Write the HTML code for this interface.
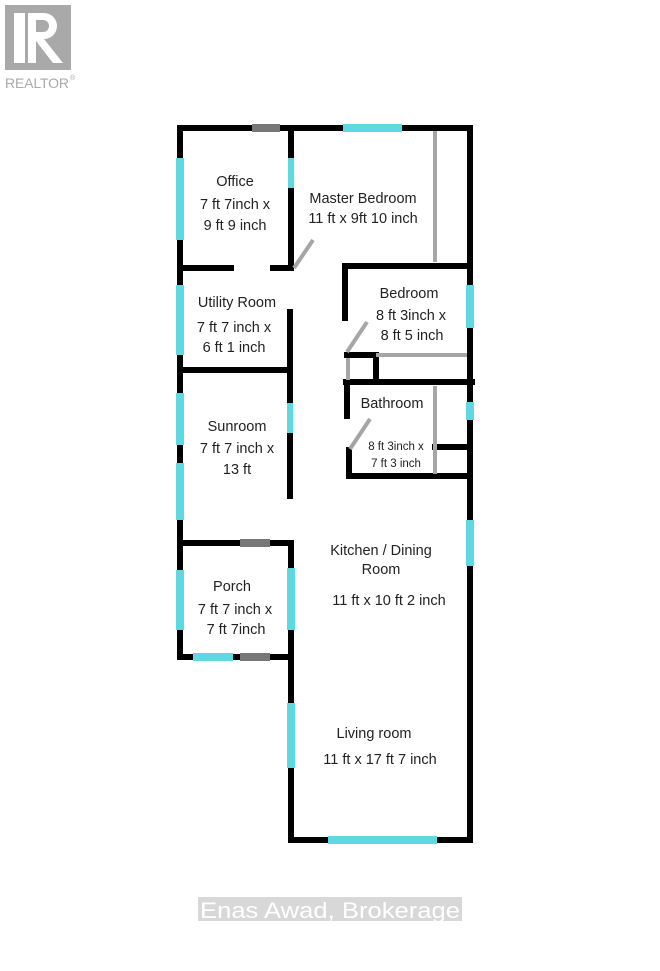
<!DOCTYPE html>
<html><head><meta charset="utf-8"><style>
html,body{margin:0;padding:0;background:#fff;}
svg{display:block;}
text{font-family:"Liberation Sans",sans-serif;fill:#222;}
</style></head><body>
<svg width="660" height="971" viewBox="0 0 660 971" xmlns="http://www.w3.org/2000/svg">
<!-- realtor logo -->
<rect x="5" y="5" width="66" height="65" fill="#a9a9a9"/>
<rect x="14" y="13" width="11" height="50" fill="#fff"/>
<path d="M28 13 H44 A13 13 0 0 1 44 39 L63 63 H53 L36 41 V63 H28 Z" fill="#fff"/>
<path d="M36 20 H43 A6 6 0 0 1 43 32 H36 Z" fill="#a9a9a9"/>
<text x="5" y="88" font-size="14" textLength="64" style="fill:#a9a9a9">REALTOR</text>
<text x="70" y="80" font-size="7" style="fill:#a9a9a9">®</text>

<g stroke="#000" stroke-width="6" fill="none" stroke-linecap="square">
<line x1="180" y1="128" x2="470" y2="128"/>
<line x1="470" y1="128" x2="470" y2="840"/>
<line x1="291" y1="840" x2="470" y2="840"/>
<line x1="291" y1="543" x2="291" y2="840"/>
<line x1="180" y1="128" x2="180" y2="657"/>
<line x1="180" y1="657" x2="291" y2="657"/>
<line x1="180" y1="543" x2="291" y2="543"/>
<line x1="291" y1="128" x2="291" y2="268"/>
<line x1="180" y1="268" x2="231" y2="268"/>
<line x1="273" y1="268" x2="291" y2="268"/>
<line x1="180" y1="370" x2="288" y2="370"/>
<line x1="290" y1="312" x2="290" y2="496"/>
<line x1="345" y1="266" x2="470" y2="266"/>
<line x1="345" y1="266" x2="345" y2="318"/>
<line x1="347" y1="355" x2="376" y2="355"/>
<line x1="376" y1="355" x2="376" y2="378"/>
<line x1="346" y1="382" x2="472" y2="382"/>
<line x1="347" y1="382" x2="347" y2="416"/>
<line x1="349" y1="450" x2="349" y2="476"/>
<line x1="349" y1="476" x2="470" y2="476"/>
<line x1="435" y1="447" x2="470" y2="447"/>
</g>
<g stroke="#a6a6a6" stroke-width="4" fill="none">
<line x1="435" y1="131" x2="435" y2="262"/>
<line x1="376" y1="355" x2="467" y2="355"/>
<line x1="348" y1="358" x2="348" y2="380"/>
<line x1="435" y1="386" x2="435" y2="474"/>
<line x1="294" y1="268" x2="313" y2="240"/>
<line x1="347" y1="352" x2="367" y2="322"/>
<line x1="350" y1="449" x2="370" y2="419"/>
</g>
<g fill="#5ed9e2">
<rect x="343" y="124" width="59" height="8"/>
<rect x="176" y="158" width="8" height="82"/>
<rect x="176" y="285" width="8" height="70"/>
<rect x="176" y="393" width="8" height="52"/>
<rect x="176" y="463" width="8" height="57"/>
<rect x="288" y="158" width="6" height="30"/>
<rect x="287" y="403" width="6" height="30"/>
<rect x="466" y="285" width="8" height="43"/>
<rect x="466" y="402" width="8" height="18"/>
<rect x="466" y="520" width="8" height="46"/>
<rect x="176" y="570" width="8" height="60"/>
<rect x="287" y="568" width="8" height="62"/>
<rect x="193" y="653" width="40" height="8"/>
<rect x="287" y="703" width="8" height="65"/>
<rect x="328" y="836" width="109" height="8"/>
</g>
<g fill="#777">
<rect x="252" y="124" width="28" height="8"/>
<rect x="240" y="539" width="30" height="8"/>
<rect x="240" y="653" width="30" height="8"/>
</g>
<g font-size="14.5" text-anchor="middle">
<text x="235" y="186">Office</text>
<text x="235" y="209">7 ft 7inch x</text>
<text x="235" y="230">9 ft 9 inch</text>
<text x="363" y="203">Master Bedroom</text>
<text x="363" y="223">11 ft x 9ft 10 inch</text>
<text x="237" y="307">Utility Room</text>
<text x="234" y="332">7 ft 7 inch x</text>
<text x="234" y="352">6 ft 1 inch</text>
<text x="409" y="298">Bedroom</text>
<text x="411" y="320">8 ft 3inch x</text>
<text x="412" y="340">8 ft 5 inch</text>
<text x="392" y="408">Bathroom</text>
<text x="396" y="450" font-size="11.5">8 ft 3inch x</text>
<text x="396" y="467" font-size="11.5">7 ft 3 inch</text>
<text x="237" y="431">Sunroom</text>
<text x="237" y="453">7 ft 7 inch x</text>
<text x="237" y="474">13 ft</text>
<text x="381" y="555">Kitchen / Dining</text>
<text x="381" y="574">Room</text>
<text x="389" y="605">11 ft x 10 ft 2 inch</text>
<text x="232" y="591">Porch</text>
<text x="235" y="614">7 ft 7 inch x</text>
<text x="236" y="634">7 ft 7inch</text>
<text x="374" y="738">Living room</text>
<text x="380" y="764">11 ft x 17 ft 7 inch</text>
</g>
<rect x="198" y="897" width="264" height="24" fill="#d8d8d8"/>
<text x="200" y="918" font-size="22" textLength="260" lengthAdjust="spacingAndGlyphs" style="fill:#fff">Enas Awad, Brokerage</text>
</svg>
</body></html>
